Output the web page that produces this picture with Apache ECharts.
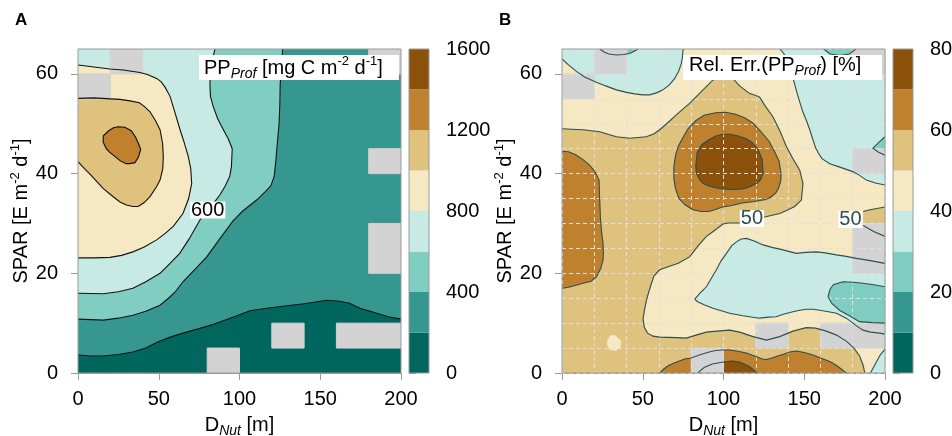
<!DOCTYPE html>
<html><head><meta charset="utf-8">
<script src="https://cdn.jsdelivr.net/npm/echarts@6/dist/echarts.min.js"></script>
<style>html,body{margin:0;padding:0;background:#fff}#c{width:952px;height:436px}</style>
</head><body><div id="c"></div>
<script>
// ---------- data ----------
const levelColors = ['#01665e','#35978f','#80cdc1','#c7eae5','#f6e8c3','#dfc27d','#bf812d','#8c510a'];
const ppBreaks = [0,200,400,600,800,1000,1200,1400,1600];
const errBreaks = [0,10,20,30,40,50,60,70,80];
const ppTicks = [0,400,800,1200,1600];
const errTicks = [0,20,40,60,80];
const xTicks = [0,50,100,150,200];
const yTicks = [0,20,40,60];
const cellW = 20, cellH = 5;
// lower-left corners of the cells without data
const missingCells = [[20,60],[0,55],[180,60],[180,40],[180,20],[180,25],[120,5],[160,5],[180,5],[80,0]];

// Panel A contours (D_Nut, SPAR)
const A_c200 = [[0,3.6],[8,3.4],[15.7,3.4],[25,3.7],[34,4.2],[42,5.0],[50,6.3],[58,7.3],[65,8.0],[75,8.9],[84,9.8],[96,11.2],[106.5,12.5],[117,13.0],[127,13.4],[140,13.9],[154,14.6],[162,14.4],[168,14.0],[174.6,13.0],[185,12.0],[192,11.3],[200,10.8]];
const A_c400 = [[0,10.8],[15.7,10.6],[25,11.0],[34,11.6],[42,12.4],[50.8,13.6],[56,15],[60,16.2],[65,18.3],[73,21],[79.7,23.3],[88,27],[96,30.5],[102,32.5],[110.6,34.7],[116,36.4],[119.5,37.6],[121.5,39.5],[122.5,42.5],[123.4,46],[124.5,50],[125,54],[125.2,58],[126,61.5],[126.7,65]];
const A_c600 = [[0,16],[15.7,15.9],[25,16.3],[34,17],[42,18.3],[50.8,20],[57,22],[63,24],[69,27],[75.5,30.7],[79.5,32.5],[83.8,34],[88,35.8],[91,37.4],[94,39.5],[95,41.4],[95.5,45],[93,47],[90,48.8],[86.5,51],[83.8,53.4],[82,55.5],[81.7,58],[82,61],[84.8,65]];
const A_c800 = [[0,23.1],[10,23.1],[19.8,23.2],[27,23.6],[34,24.3],[41,25.3],[48.7,26.7],[54,28],[59,29.4],[65,32],[68.5,35],[70.4,38],[69.8,41],[68.3,43.4],[65.5,46.5],[63,49],[60,52.3],[57,55.5],[54,57.3],[51.5,58.4],[48.7,59.1],[43,59.9],[38.4,60.3],[28,60.8],[19.8,61],[10,61.4],[0,61.8]];
const A_c1000 = [[0,42.4],[4,41],[8,39.7],[12,38.3],[15.7,37],[22,35.3],[26,34.3],[30,33.7],[34,33.4],[37.3,33.4],[41,34.2],[44.6,35.4],[48.5,37.3],[50.8,38.7],[52.5,41],[52.8,43.4],[52.4,46],[50.8,48.8],[48,50.6],[44.6,52.4],[41,53.5],[38,54.2],[32.2,54.6],[26,54.9],[20,55],[10,55.2],[0,55.1]];
const A_c1200 = [[15.7,47.6],[19,48.6],[22,49.2],[25,49.4],[29,49.3],[33,48.6],[35.5,47.4],[37.5,46],[38.8,44.9],[37.5,43.4],[35.3,42.2],[32,42],[29.7,42],[26,42.6],[23,43.4],[19.5,44.3],[17.5,45],[15.6,46.3]];
const A_labels = [[80.3,32.7,'600']];

// Panel B contours (D_Nut, SPAR)
const B_c40_tl = [[0,63],[4,61.8],[8.9,60.5],[14,59.4],[20.2,58.5],[27,57.6],[33.7,56.8],[40,56.3],[45,56],[50,55.8],[54.3,55.8],[58.5,56.2],[62.5,56.8],[66.5,57.8],[69.8,59.1],[72.3,60.6],[73.9,62.1],[74.6,63.5],[75,65]];
const B_c30_top = [[23.3,65],[26,64.4],[29,64],[33.7,63.8],[38,63.9],[41.9,64.1],[45,64.6],[47,65]];
const B_c40_tr = [[135,65],[137.5,64],[139.5,62.5],[142,60],[143.8,58.3],[145,56.8],[147,54.6],[149,52.5],[151.5,50.5],[153.4,48.8],[155.5,46.7],[157,45.2],[159,44],[161,43],[165.8,42],[172,41.3],[180,40.4],[184,39.7],[188.5,38.7],[194,38.1],[200,37.7]];
const B_c30_wedge = [[200,47.4],[196,46.2],[192.5,45.1],[196,44.3],[200,43.7]];
const B_c30_topr = [[162,65],[166,64],[172,63.7],[178,64],[182,65]];
const B_tongue_up = [[82.2,14.8],[86,16.2],[89.4,17.3],[92.5,19],[95.6,20.7],[98.5,22.5],[101.8,24],[105,25.5],[108,26.3],[111,26.9],[114.2,27],[119,26.5],[124.5,25.7],[130,25.2],[136.8,24.7],[145.1,24],[151,24.2],[157.5,24.3],[163,24.1],[169.9,23.7],[176,23.4],[182.3,23],[190,22.6],[200,22]];
const B_tongue_lo = [[200,7.8],[196.7,8],[191,8.2],[186.4,8.6],[183,9.3],[180.2,10],[176,11],[169.9,12],[165,12.3],[159.6,12.6],[155.5,12.8],[151.3,12.8],[147.2,12.6],[143,12.3],[137,11.8],[132.6,11.3],[128,11.2],[122.3,11],[112,11.5],[103.8,12],[97.6,12.6],[93.5,13],[88,13.7],[84,14.3],[82.2,14.8]];
const B_patch_up = [[164.7,15.3],[166,16.8],[168,17.7],[174,18.3],[180,18.2],[186.4,18],[193,17.7],[200,17.3]];
const B_patch_lo = [[200,10],[192,10.1],[184.2,10.3],[178,11.5],[171.8,12.6],[167,14],[164.7,15.3]];
const B_c50 = [[0,49],[6,48.9],[13,48.8],[23.3,48.4],[33.7,47.4],[41.9,47.1],[52.3,47.4],[57,48],[60.5,48.8],[65.5,50.2],[70.8,51.8],[75,53],[79,54.1],[83,55.4],[87.3,56.8],[93.5,58.8],[100,59.4],[105.5,59.2],[110,57.6],[116,56.1],[122.3,55.4],[126,53.5],[130.6,51.4],[135,48.5],[139,45.4],[143,43],[147.2,40.7],[149.2,38],[148.2,34.7],[144.1,33.4],[139,32.6],[134.8,32],[125.5,31.3],[118,30.8],[110,30.1],[103,30.1],[99.7,29.9],[94,28.5],[89.4,27.4],[84,25.4],[79,23.3],[72,22],[66.6,21.4],[60.5,20.7],[57,19.5],[55.4,18],[53.5,16],[52.3,14.6],[51,12.5],[50.2,10.8],[51,9.1],[53,8],[56.3,7.4],[60.5,7.2],[70.8,7.1],[77,7],[83,7.6],[89.4,8.2],[96,8.4],[103.8,8.6],[110,8.2],[118.3,7.3],[126.6,6.6],[134.8,7.3],[143,8.4],[151.3,9.1],[157,9],[163.7,8.4],[170,7.6],[176,6.4],[180.5,5.1],[184.3,3.4],[186.5,1.5],[187.5,0]];
const B_r50_up = [[186.5,32.4],[190,32.7],[195,33],[200,33.3]];
const B_r50_lo = [[200,27.4],[193,28.4],[186.5,29.6]];
const B_left60 = [[0,44.5],[4,44.4],[8.5,43.8],[13,42.8],[16.7,41.8],[20.2,40.5],[22.9,38.7],[23.3,35],[23.8,31],[24.6,28],[25.4,26],[25.6,24],[25.4,22.7],[24,21],[21.3,19.3],[18,18.4],[13,18],[8.5,17.6],[4,17.2],[0,17]];
const B_center60 = [[69.3,41.5],[70.4,43.8],[72,45.5],[74.5,47],[78,49],[82.8,50.6],[88,51.7],[95.1,52.2],[101,52.3],[107.5,51.9],[113,51.2],[117.9,50.2],[123,48.5],[128.2,46.5],[131.5,44.5],[134.4,42.5],[135.6,40],[135.4,38.5],[134,37],[132.3,36.1],[129,35.2],[126.1,34.8],[119,34.4],[111.7,34.1],[105,33.6],[99.3,33.3],[95,32.8],[91,32.4],[86,32.4],[80.7,32.8],[76,33.8],[72.4,35],[70.3,37],[69.3,39],[69.3,41.5]];
const B_center70 = [[82.8,41.5],[83.8,44.3],[86.5,45.8],[91,46.8],[95,47.5],[99.3,47.9],[104,47.9],[109.6,47.5],[114,47],[117.9,46.2],[121.5,44.8],[124,42.8],[124.5,40.1],[123,38.8],[121,38.1],[116,37.3],[111.7,36.9],[103.4,36.8],[97,37],[91,37.5],[87.5,38],[85.2,38.8],[83.3,40],[82.8,41.5]];
const B_bottom60 = [[60.5,0],[63,0.8],[66,1.5],[69.5,2],[72.7,2.4],[76,2.8],[80,3],[85,3.6],[90,4.1],[95,4.5],[99.7,4.6],[104,4.6],[108,4.4],[114.2,4],[120,3.3],[124,2.8],[126.6,2.7],[130,3],[133.5,3.4],[136.8,3.7],[141,4.2],[145.1,4.4],[150,4.1],[155.4,3.6],[160,3],[165.8,2.3],[169,1.7],[172.5,0.9],[176,0]];
const B_bottom70 = [[84,0],[88,1.1],[93,1.8],[100,2.2],[105,2.4],[110,2.2],[116,1.3],[121,0]];
const B_blob = [[28,6.5],[30,7.5],[33,7.5],[36.5,6.4],[36,5],[33,4.5],[29.5,4.7],[28.2,5.5]];
const B_corner40 = [[191,0],[194,1.8],[197,3.6],[200,4.8]];
const B_labels = [[117.6,31.0,'50'],[178.6,30.8,'50']];

// ---------- build ----------
const F = 'Liberation Sans';
const PLOT = [[0,0],[200,0],[200,65],[0,65]];
const fillsA = [
  [0, PLOT],
  [1, A_c200.concat([[200,65],[0,65]])],
  [2, A_c400.concat([[0,65]])],
  [3, A_c600.concat([[0,65]])],
  [4, A_c800],
  [5, A_c1000],
  [6, A_c1200]
];
const linesA = [[A_c200,0],[A_c400,0],[A_c600,0],[A_c800,0],[A_c1000,0],[A_c1200,1]];
const fillsB = [
  [4, PLOT],
  [3, B_c40_tl.concat([[0,65]])],
  [2, B_c30_top],
  [3, B_c40_tr.concat([[200,65]])],
  [2, B_c30_wedge],
  [2, B_c30_topr],
  [3, B_tongue_up.concat(B_tongue_lo)],
  [2, B_patch_up.concat(B_patch_lo)],
  [5, B_c50.concat([[0,0]])],
  [5, B_r50_up.concat(B_r50_lo)],
  [6, B_left60],
  [6, B_center60],
  [6, B_bottom60],
  [7, B_center70],
  [7, B_bottom70],
  [4, B_blob],
  [3, B_corner40.concat([[200,0]])]
];
const linesB = [[B_c40_tl,0],[B_c30_top,0],[B_c40_tr,0],[B_c30_wedge,0],[B_c30_topr,0],[B_tongue_up,0],[B_tongue_lo,0],
  [B_patch_up,0],[B_patch_lo,0],[B_c50,0],[B_r50_up,0],[B_r50_lo,0],[B_left60,0],[B_center60,0],[B_bottom60,0],
  [B_center70,0],[B_bottom70,0],[B_corner40,0]];

const richE = {
  n:{fontSize:20,fontFamily:F,color:'#000',lineHeight:26},
  sup:{fontSize:13,fontFamily:F,color:'#000',lineHeight:14,verticalAlign:'top'},
  sub:{fontSize:14,fontFamily:F,fontStyle:'italic',color:'#000',lineHeight:13,verticalAlign:'bottom'}
};
const richZ = {
  n:{fontSize:20,fontFamily:F,fill:'#000',lineHeight:26},
  sup:{fontSize:13,fontFamily:F,fill:'#000',lineHeight:14,verticalAlign:'top'},
  sub:{fontSize:14,fontFamily:F,fontStyle:'italic',fill:'#000',lineHeight:13,verticalAlign:'bottom'}
};

function fillSeries(xi, fills){
  return {type:'custom', xAxisIndex:xi, yAxisIndex:xi, silent:true, z:1, clip:true,
    data: fills.map((f,i)=>[i,0]),
    renderItem:(p,api)=>{const f=fills[p.dataIndex];
      return {type:'polygon', shape:{points:f[1].map(q=>api.coord(q))}, style:{fill:levelColors[f[0]], stroke:levelColors[f[0]], lineWidth:0.5}};}};
}
function graySeries(xi){
  return {type:'custom', xAxisIndex:xi, yAxisIndex:xi, silent:true, z:2, clip:true,
    data: missingCells.map((c,i)=>[i,0]),
    renderItem:(p,api)=>{const c=missingCells[p.dataIndex];
      const a=api.coord([c[0],c[1]+cellH]), b=api.coord([c[0]+cellW,c[1]]);
      return {type:'rect', shape:{x:a[0],y:a[1],width:b[0]-a[0],height:b[1]-a[1]}, style:{fill:'#d3d3d3', stroke:'#d3d3d3', lineWidth:1}};}};
}
function lineSeries(xi, lines, color){
  return {type:'custom', xAxisIndex:xi, yAxisIndex:xi, silent:true, z:4, clip:true,
    data: lines.map((l,i)=>[i,0]),
    renderItem:(p,api)=>{const l=lines[p.dataIndex];
      return {type:l[1]?'polygon':'polyline', shape:{points:l[0].map(q=>api.coord(q))}, style:{fill:null, stroke:color, lineWidth:1.1}};}};
}
function labelSeries(xi, labels, color){
  return {type:'custom', xAxisIndex:xi, yAxisIndex:xi, silent:true, z:5,
    data: labels.map((l,i)=>[i,0]),
    renderItem:(p,api)=>{const l=labels[p.dataIndex]; const c=api.coord([l[0],l[1]]);
      return {type:'text', x:c[0], y:c[1], style:{text:l[2], fill:color, font:'20px '+F, align:'center', verticalAlign:'middle', backgroundColor:'#fff', padding:[0,1], lineHeight:17}};}};
}
function frameSeries(xi, x0,x1,y0,y1){
  return {type:'custom', xAxisIndex:xi, yAxisIndex:xi, silent:true, z:6, clip:false,
    data:[[0,0]],
    renderItem:(p,api)=>{const a=api.coord([x0,y1]), b=api.coord([x1,y0]);
      return {type:'rect', shape:{x:a[0],y:a[1],width:b[0]-a[0],height:b[1]-a[1]}, style:{fill:null, stroke:'#9a9a9a', lineWidth:1}};}};
}
function barSeries(xi, breaks){
  return {type:'custom', xAxisIndex:xi, yAxisIndex:xi, silent:true, z:1,
    data: levelColors.map((c,i)=>[i,0]),
    renderItem:(p,api)=>{const i=p.dataIndex; const a=api.coord([0,breaks[i+1]]), b=api.coord([1,breaks[i]]);
      return {type:'rect', shape:{x:a[0],y:a[1],width:b[0]-a[0],height:b[1]-a[1]}, style:{fill:levelColors[i]}};}};
}

const axisGray = '#9a9a9a';
const plain = v => String(v);
function mainX(gi){
  return {gridIndex:gi, type:'value', min:0, max:200, interval:50, splitLine:{show:false},
    axisLine:{lineStyle:{color:axisGray}}, axisTick:{length:7, lineStyle:{color:axisGray}, customValues:xTicks},
    axisLabel:{fontSize:20, fontFamily:F, color:'#000', margin:16, customValues:xTicks, formatter:plain},
    name:'{n|D}{sub|Nut}{n| [m]}', nameLocation:'middle', nameGap:39, nameTextStyle:{rich:richE}};
}
function mainY(gi){
  return {gridIndex:gi, type:'value', min:0, max:65, interval:20, splitLine:{show:false},
    axisLine:{lineStyle:{color:axisGray}}, axisTick:{length:7, lineStyle:{color:axisGray}, customValues:yTicks},
    axisLabel:{fontSize:20, fontFamily:F, color:'#000', margin:20, customValues:yTicks, formatter:plain},
    name:'{n|SPAR [E m}{sup|-2}{n| d}{sup|-1}{n|]}', nameLocation:'middle', nameRotate:90, nameGap:42, nameTextStyle:{rich:richE}};
}
function cbX(gi){ return {gridIndex:gi, type:'value', min:0, max:1, show:false}; }
function cbY(gi, max, interval, ticks){
  return {gridIndex:gi, type:'value', position:'right', min:0, max:max, interval:interval, splitLine:{show:false},
    axisLine:{show:false}, axisTick:{length:7, lineStyle:{color:axisGray}, customValues:ticks},
    axisLabel:{fontSize:20, fontFamily:F, color:'#000', margin:17, customValues:ticks, formatter:plain}};
}

const gridBase = {outerBoundsMode:'none', containLabel:false};
const option = {
  animation:false,
  grid:[
    Object.assign({left:78, top:49, width:323, height:324}, gridBase),
    Object.assign({left:562, top:49, width:323, height:324}, gridBase),
    Object.assign({left:409, top:49, width:20, height:324}, gridBase),
    Object.assign({left:893, top:49, width:20, height:324}, gridBase)
  ],
  xAxis:[mainX(0), mainX(1),
    {gridIndex:1, type:'value', min:0, max:200, interval:20, position:'top', z:3, axisLine:{show:false}, axisTick:{show:false}, axisLabel:{show:false},
      splitLine:{show:true, lineStyle:{color:'#e0e0e0', type:[4,3], width:1}}},
    cbX(2), cbX(3)],
  yAxis:[mainY(0), mainY(1),
    {gridIndex:1, type:'value', min:0, max:65, interval:5, position:'right', z:3, axisLine:{show:false}, axisTick:{show:false}, axisLabel:{show:false},
      splitLine:{show:true, lineStyle:{color:'#e0e0e0', type:[4,3], width:1}}},
    cbY(2,1600,400,ppTicks), cbY(3,80,20,errTicks)],
  series:[
    fillSeries(0, fillsA), graySeries(0), lineSeries(0, linesA, '#111'), labelSeries(0, A_labels, '#000'), frameSeries(0,0,200,0,65),
    fillSeries(1, fillsB), graySeries(1), lineSeries(1, linesB, '#2f4f4f'), labelSeries(1, B_labels, '#2f4f4f'), frameSeries(1,0,200,0,65),
    barSeries(3, ppBreaks), frameSeries(3,0,1,0,1600),
    barSeries(4, errBreaks), frameSeries(4,0,1,0,80)
  ],
  graphic:[
    {type:'text', left:15, top:12, z:100, style:{text:'A', font:'bold 17px '+F, fill:'#000'}},
    {type:'text', left:499, top:12, z:100, style:{text:'B', font:'bold 17px '+F, fill:'#000'}},
    {type:'rect', left:199, top:55, z:100, shape:{width:200,height:25}, style:{fill:'#fff'}},
    {type:'text', left:204, top:55, z:101, style:{text:'{n|PP}{sub|Prof}{n| [mg C m}{sup|-2}{n| d}{sup|-1}{n|]}', rich:richZ}},
    {type:'rect', left:683, top:55, z:100, shape:{width:199,height:25}, style:{fill:'#fff'}},
    {type:'text', left:689, top:55, z:101, style:{text:'{n|Rel. Err.(PP}{sub|Prof}{n|) [%]}', rich:richZ}}
  ]
};
option.series[10].xAxisIndex=3; option.series[10].yAxisIndex=3;
option.series[11].xAxisIndex=3; option.series[11].yAxisIndex=3;
option.series[12].xAxisIndex=4; option.series[12].yAxisIndex=4;
option.series[13].xAxisIndex=4; option.series[13].yAxisIndex=4;
const chart = echarts.init(document.getElementById('c'), null, {renderer:'canvas'});
chart.setOption(option);
</script></body></html>
